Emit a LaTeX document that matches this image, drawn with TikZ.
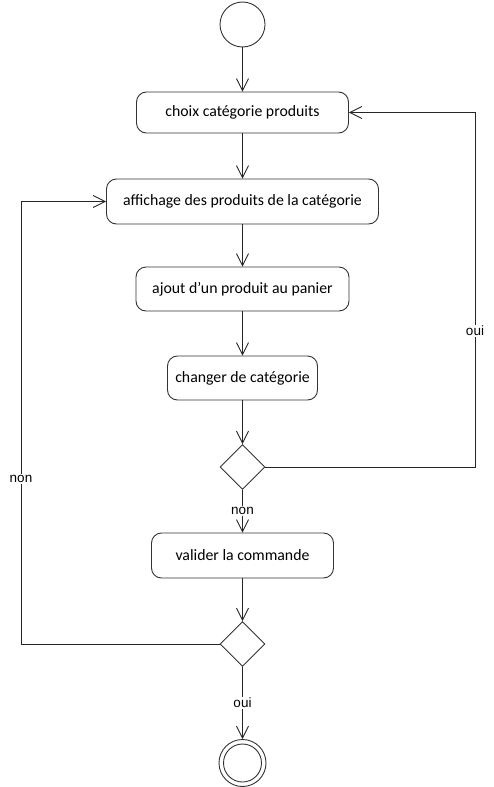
\documentclass[tikz,border=0pt]{standalone}
\usepackage{fontspec}
\setmainfont{Carlito}
\newfontfamily\lblfont{Liberation Sans}
\usetikzlibrary{arrows.meta,shapes.geometric}
\begin{document}
\begin{tikzpicture}[x=1pt,y=-1pt,
  act/.style={draw=black!80,line width=0.9pt,rounded corners=10pt,minimum height=44pt,inner sep=0pt,font=\fontsize{15.8}{17}\selectfont,fill=white},
  dec/.style={draw=black!80,line width=0.9pt,diamond,minimum width=45pt,minimum height=45pt,inner sep=0pt},
  arr/.style={draw=black!85,line width=0.9pt,-{Straight Barb[length=12pt,width=12pt,line width=0.9pt]}},
  ln/.style={draw=black!85,line width=0.9pt},
  lbl/.style={fill=white,inner sep=1.5pt,font=\lblfont\fontsize{13.5}{15}\selectfont}]
\useasboundingbox (0,0) rectangle (494,787);
\node[draw=black!80,line width=0.9pt,circle,minimum size=45pt,inner sep=0pt] (start) at (242.5,24.5) {};
\node[act,minimum width=212pt,minimum height=41pt] (b1) at (242.5,112.5) {choix catégorie produits};
\node[act,minimum width=272pt,minimum height=45pt] (b2) at (242.5,201.5) {affichage des produits de la catégorie};
\node[act,minimum width=213pt] (b3) at (242.5,289) {ajout d'un produit au panier};
\node[act,minimum width=150pt] (b4) at (242.5,378) {changer de catégorie};
\node[dec] (d1) at (242.5,467) {};
\node[act,minimum width=182pt,minimum height=45pt] (b5) at (242.5,555.5) {valider la commande};
\node[dec] (d2) at (242.5,644) {};
\node[draw=black!80,line width=0.9pt,circle,minimum size=47pt,inner sep=0pt] (end) at (242.5,763) {};
\node[draw=black!80,line width=0.9pt,circle,minimum size=38pt,inner sep=0pt] (endin) at (242.5,763) {};
\coordinate (r) at (475,331);
\coordinate (l) at (21,479);
\draw[arr] (start) -- (b1);
\draw[arr] (b1) -- (b2);
\draw[arr] (b2) -- (b3);
\draw[arr] (b3) -- (b4);
\draw[arr] (b4) -- (d1);
\draw[arr] (d1) -- (b5) node[lbl,pos=0.5] (non1) {non};
\draw[arr] (b5) -- (d2);
\draw[arr] (d2) -- (end) node[lbl,pos=0.5] (oui2) {oui};
\draw[ln] (d1.east) -| (r);
\draw[arr] (r) |- (b1.east);
\node[lbl] (oui1) at (r) {oui};
\draw[ln] (d2.west) -| (l);
\draw[arr] (l) |- (b2.west);
\node[lbl] (non2) at (l) {non};
\end{tikzpicture}
\end{document}
